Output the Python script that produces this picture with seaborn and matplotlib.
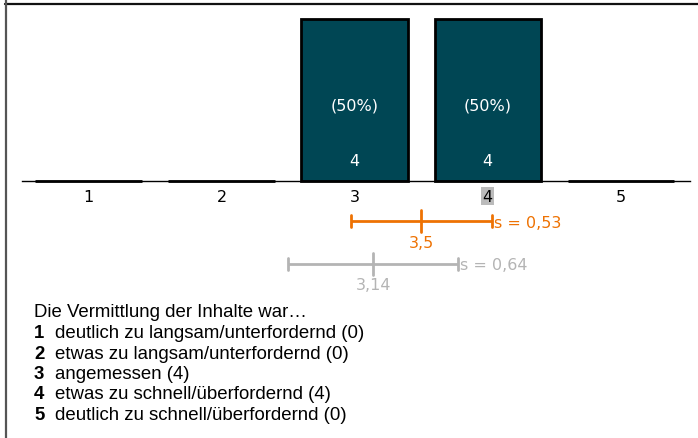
import matplotlib
matplotlib.use("Agg")
import matplotlib.pyplot as plt
import seaborn as sns
import pandas as pd
from matplotlib.lines import Line2D

categories = [1, 2, 3, 4, 5]
counts = [0, 0, 4, 4, 0]
percents = ["", "", "(50%)", "(50%)", ""]
tick_labels = ["1", "2", "3", "4", "5"]
median_value = 4
mean_value = 3.5
sd_value = 0.53
mean_label = "3,5"
sd_label = "s = 0,53"
cmp_mean = 3.14
cmp_sd = 0.64
cmp_mean_label = "3,14"
cmp_sd_label = "s = 0,64"
question = "Die Vermittlung der Inhalte war…"
answer_texts = ["deutlich zu langsam/unterfordernd (0)",
                "etwas zu langsam/unterfordernd (0)",
                "angemessen (4)",
                "etwas zu schnell/überfordernd (4)",
                "deutlich zu schnell/überfordernd (0)"]

sns.set_style("white")
plt.rcParams['font.family'] = ['DejaVu Sans']
plt.rcParams['text.color'] = 'black'

W, H = 698, 439
fig = plt.figure(figsize=(W / 100, H / 100), dpi=100)

# axes: x 0.5..5.52 -> px 22..690 ; y 0..4 -> px 182..20
left, right = 22, 690
top, bottom = 20, 182
ax = fig.add_axes([left / W, 1 - bottom / H, (right - left) / W, (bottom - top) / H])

df = pd.DataFrame({"cat": categories, "n": counts})
sns.barplot(data=df, x="cat", y="n", native_scale=True, width=0.8,
            color="#004654", saturation=1, edgecolor="black", linewidth=2,
            ax=ax, errorbar=None)
for p in ax.patches:
    p.set_clip_on(False)

cfs = 11.5
ax.set_xlim(0.5, 5.52)
ax.set_ylim(0, 4)
for s in ["top", "left", "right"]:
    ax.spines[s].set_visible(False)
ax.spines["bottom"].set_color("black")
ax.spines["bottom"].set_linewidth(1)
ax.set_yticks([])
ax.set_xticks(categories)
ax.set_xticklabels(tick_labels, fontsize=cfs, color="black")
ax.tick_params(axis="x", direction="inout", length=8, width=1, pad=1.5, colors="black")
ax.set_xlabel("")
ax.set_ylabel("")

for lbl, v in zip(ax.get_xticklabels(), categories):
    if v == median_value:
        lbl.set_bbox(dict(facecolor="#bbbbbb", edgecolor="none", pad=1.2))

px = 40.5  # pixels per y unit
for c, n, pc in zip(categories, counts, percents):
    if n > 0:
        ax.text(c, (182 - 106) / px, pc, color="white", ha="center", va="center", fontsize=cfs)
        ax.text(c, (182 - 162) / px, str(n), color="white", ha="center", va="center", fontsize=cfs)

def errbar(mean, sd, ypx, color, mlabel, slabel):
    y = -(ypx - 182) / px
    cap = 6 / px
    ctr = 11 / px
    ax.plot([mean - sd, mean + sd], [y, y], color=color, lw=2, clip_on=False, solid_capstyle="butt")
    for xe in (mean - sd, mean + sd):
        ax.plot([xe, xe], [y - cap, y + cap], color=color, lw=2, clip_on=False)
    ax.plot([mean, mean], [y - ctr, y + ctr], color=color, lw=2, clip_on=False)
    ax.text(mean, y - 21 / px, mlabel, color=color, ha="center", va="center", fontsize=cfs)
    ax.text(mean + sd + 0.015, y - 1 / px, slabel, color=color, ha="left", va="center", fontsize=cfs)

errbar(mean_value, sd_value, 222, "#ee7203", mean_label, sd_label)
errbar(cmp_mean, cmp_sd, 265, "#b4b4b4", cmp_mean_label, cmp_sd_label)

# frame lines
fig.add_artist(Line2D([5 / W, 1], [1 - 5 / H, 1 - 5 / H], color="#111111", lw=1.6))
fig.add_artist(Line2D([6 / W, 6 / W], [0, 1], color="#555555", lw=1.6))

# text block
fs = 13.4
fig.text(34 / W, 1 - 313 / H, question, fontsize=fs, family="Liberation Sans", va="center",
         color="black")
for i, t in enumerate(answer_texts):
    ypx = 334 + i * 20.3
    fig.text(34 / W, 1 - ypx / H, tick_labels[i], fontsize=fs, family="Liberation Sans",
             weight="bold", va="center", color="black")
    fig.text(55 / W, 1 - ypx / H, t, fontsize=fs, family="Liberation Sans", va="center",
             color="black")

fig.savefig("out.png", dpi=100)
